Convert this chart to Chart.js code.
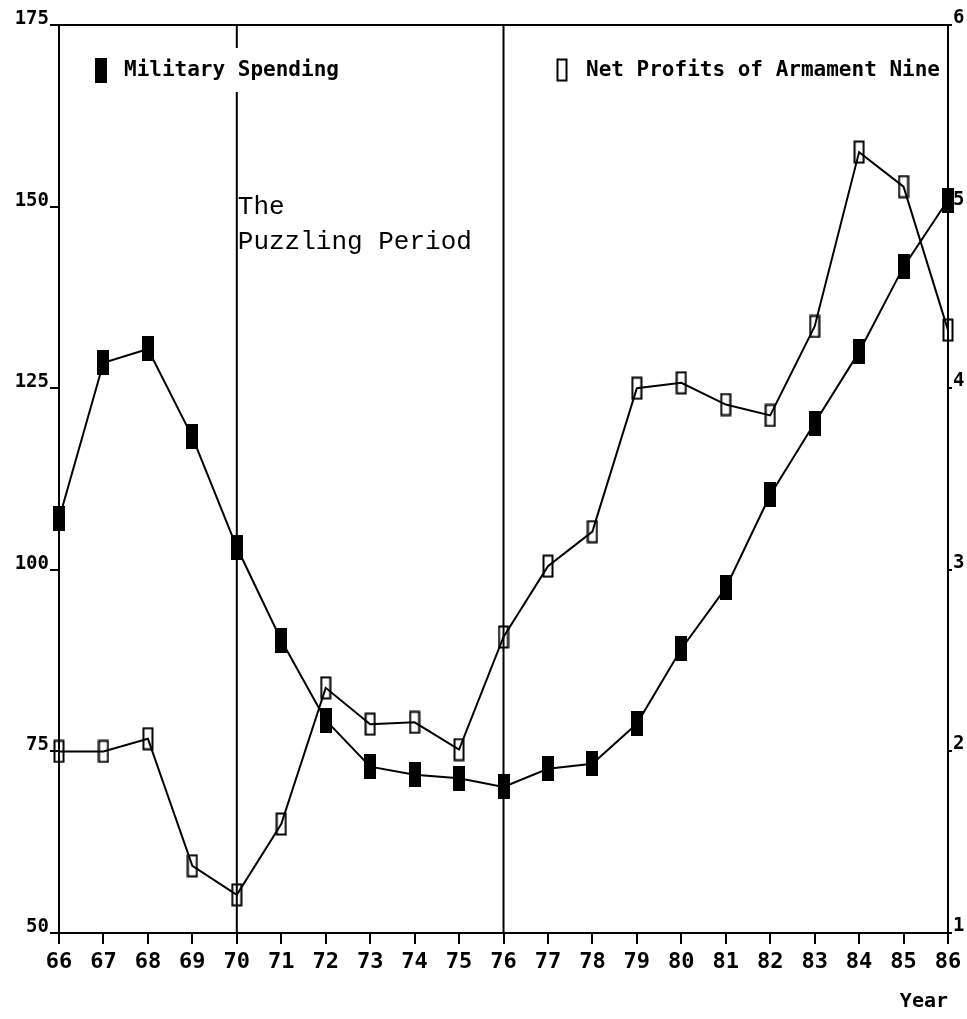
<!DOCTYPE html>
<html>
<head>
<meta charset="utf-8">
<script src="https://cdn.jsdelivr.net/npm/chart.js@4.4.1/dist/chart.umd.min.js"></script>
<style>
  html, body { margin: 0; padding: 0; background: #fff; }
  #wrap { width: 967px; height: 1019px; }
</style>
</head>
<body>
<div id="wrap"><canvas id="c" width="967" height="1019"></canvas></div>
<script>
// ---- data ----
const years = ['66','67','68','69','70','71','72','73','74','75','76','77','78','79','80','81','82','83','84','85','86'];
const militarySpending = [107, 128.5, 130.4, 118.3, 103.1, 90.3, 79.3, 72.9, 71.8, 71.3, 70.1, 72.6, 73.3, 78.8, 89.1, 97.5, 110.3, 120.2, 130.0, 141.7, 150.9];
const netProfits = [2.0, 2.0, 2.07, 1.37, 1.21, 1.60, 2.35, 2.15, 2.16, 2.01, 2.63, 3.02, 3.21, 4.0, 4.03, 3.91, 3.85, 4.34, 5.30, 5.11, 4.32];
const leftTicks = [50, 75, 100, 125, 150, 175];
const rightTicks = [1, 2, 3, 4, 5, 6];
const markedYears = ['70', '76'];
const seriesNames = ['Military Spending', 'Net Profits of Armament Nine'];
const annotationLines = ['The', 'Puzzling Period'];
const xTitle = 'Year';

// ---- marker images ----
function makeMarker(filled) {
  const c = document.createElement('canvas');
  if (filled) {
    c.width = 12; c.height = 25;
    const g = c.getContext('2d');
    g.fillStyle = '#000';
    g.fillRect(0, 0, 12, 25);
  } else {
    c.width = 12; c.height = 24;
    const g = c.getContext('2d');
    g.strokeStyle = '#000';
    g.lineWidth = 2;
    g.strokeRect(1.5, 1.5, 9, 21);
  }
  return c;
}
const filledMarker = makeMarker(true);
const hollowMarker = makeMarker(false);

const monoBold = "'DejaVu Sans Mono', monospace";

const decorPlugin = {
  id: 'decor',
  beforeDatasetsDraw(chart) {
    const { ctx, chartArea: a, scales } = chart;
    ctx.save();
    ctx.strokeStyle = '#000';
    ctx.lineWidth = 2;
    ctx.beginPath();
    ctx.moveTo(a.left, a.top);
    ctx.lineTo(a.right, a.top);
    ctx.stroke();
    markedYears.forEach(y => {
      const px = scales.x.getPixelForValue(years.indexOf(y));
      ctx.beginPath();
      ctx.moveTo(px, a.top);
      ctx.lineTo(px, a.bottom);
      ctx.stroke();
    });
    ctx.font = 'bold 21px ' + monoBold;
    ctx.textBaseline = 'middle';
    const ly = 70;
    const w1 = ctx.measureText(seriesNames[0]).width;
    ctx.fillStyle = '#fff';
    ctx.fillRect(90, 48, 36 + w1 + 6, 44);
    ctx.fillStyle = '#000';
    ctx.drawImage(filledMarker, 95, ly - 12);
    ctx.textAlign = 'left';
    ctx.fillText(seriesNames[0], 124, ly + 1);
    const w2 = ctx.measureText(seriesNames[1]).width;
    const x2 = a.right - 8 - w2;
    ctx.drawImage(hollowMarker, x2 - 30, ly - 12);
    ctx.fillText(seriesNames[1], x2, ly + 1);
    const ax = scales.x.getPixelForValue(years.indexOf(markedYears[0])) + 1;
    ctx.font = "26px 'Liberation Mono', monospace";
    ctx.textBaseline = 'alphabetic';
    ctx.fillText(annotationLines[0], ax, 214);
    ctx.fillText(annotationLines[1], ax, 249);
    ctx.restore();
  }
};

new Chart(document.getElementById('c'), {
  type: 'line',
  data: {
    labels: years,
    datasets: [
      {
        label: seriesNames[0],
        data: militarySpending,
        yAxisID: 'y',
        borderColor: '#000',
        borderWidth: 2,
        pointStyle: filledMarker,
        pointRadius: 8,
        tension: 0,
        fill: false
      },
      {
        label: seriesNames[1],
        data: netProfits,
        yAxisID: 'y2',
        borderColor: '#000',
        borderWidth: 2,
        pointStyle: hollowMarker,
        pointRadius: 8,
        tension: 0,
        fill: false
      }
    ]
  },
  options: {
    responsive: false,
    animation: false,
    layout: { padding: { top: 25, left: 0, right: 0, bottom: 0 } },
    plugins: { legend: { display: false }, tooltip: { enabled: false } },
    scales: {
      x: {
        type: 'category',
        offset: false,
        grid: { drawOnChartArea: false, drawTicks: true, tickLength: 11, color: '#000', lineWidth: 2 },
        border: { display: true, color: '#000', width: 2 },
        ticks: { color: '#000', font: { family: monoBold, size: 22, weight: 'bold' }, padding: 5, maxRotation: 0, autoSkip: false },
        title: { display: true, text: xTitle, align: 'end', color: '#000', font: { family: monoBold, size: 20, weight: 'bold' }, padding: { top: 0, bottom: 5 } },
        afterFit(s) { s.height = 86; }
      },
      y: {
        position: 'left',
        min: 50, max: 175,
        afterBuildTicks(s) { s.ticks = leftTicks.map(v => ({ value: v })); },
        grid: { drawOnChartArea: false, drawTicks: true, tickLength: 9, color: '#000', lineWidth: 2 },
        border: { display: true, color: '#000', width: 2 },
        ticks: { color: '#000', font: { family: monoBold, size: 19, weight: 'bold' }, padding: 1, labelOffset: -6 },
        afterFit(s) { s.width = 59; }
      },
      y2: {
        position: 'right',
        min: 1, max: 6,
        afterBuildTicks(s) { s.ticks = rightTicks.map(v => ({ value: v })); },
        grid: { drawOnChartArea: false, drawTicks: true, tickLength: 4, color: '#000', lineWidth: 2 },
        border: { display: true, color: '#000', width: 2 },
        ticks: { color: '#000', font: { family: monoBold, size: 19, weight: 'bold' }, padding: 1, labelOffset: -7 },
        afterFit(s) { s.width = 19; }
      }
    }
  },
  plugins: [decorPlugin]
});
</script>
</body>
</html>
